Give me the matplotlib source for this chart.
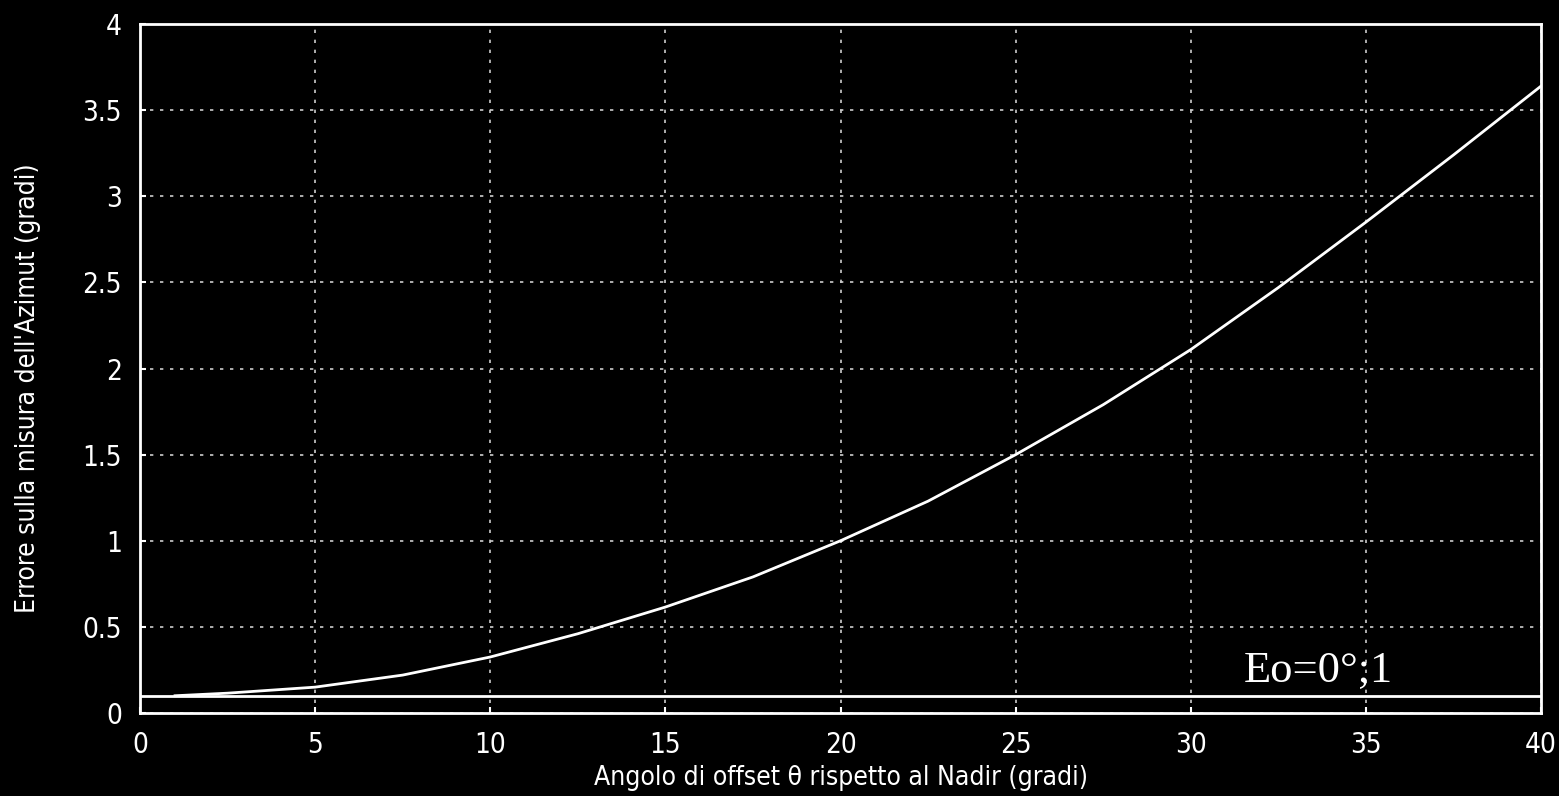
import matplotlib.pyplot as plt

# angolo di offset (gradi) e errore sull'azimut (gradi)
theta = [1, 2.5, 5, 7.5, 10, 12.5, 15, 17.5, 20, 22.5, 25, 27.5, 30, 32.5, 35, 37.5, 40]
errore = [0.10, 0.115, 0.15, 0.22, 0.325, 0.46, 0.615, 0.79, 1.0, 1.23, 1.5, 1.79, 2.11, 2.47, 2.85, 3.24, 3.64]
soglia = 0.1

xticks = [0, 5, 10, 15, 20, 25, 30, 35, 40]
yticks = [0, 0.5, 1, 1.5, 2, 2.5, 3, 3.5, 4]
yticklabels = ["0", "0.5", "1", "1.5", "2", "2.5", "3", "3.5", "4"]

plt.rcParams['font.family'] = ['DejaVu Sans']
plt.rcParams['font.stretch'] = 'condensed'

fig = plt.figure(figsize=(15.59, 7.96), dpi=100, facecolor="black")
ax = fig.add_axes([0.0898, 0.1043, 0.8987, 0.8655], facecolor="black")

ax.plot(theta, errore, color="white", linewidth=2)
ax.axhline(soglia, color="white", linewidth=2)

ax.set_xlim(0, 40)
ax.set_ylim(0, 4)
ax.set_xticks(xticks)
ax.set_yticks(yticks)
ax.set_yticklabels(yticklabels)
ax.tick_params(colors="white", labelsize=20, direction="in", length=4, width=1.5, pad=13)

ax.grid(True, color="#cccccc", linestyle=(0, (2, 4)), linewidth=1.2)
for s in ax.spines.values():
    s.set_color("white")
    s.set_linewidth(2)

ax.set_xlabel("Angolo di offset θ rispetto al Nadir (gradi)", color="white", fontsize=19)
ax.set_ylabel("Errore sulla misura dell'Azimut (gradi)", color="white", fontsize=19)
ax.xaxis.set_label_coords(0.5, -0.076)
ax.yaxis.set_label_coords(-0.071, 0.472)

ax.text(31.5, 0.25, "Eo=0°;1", color="white", fontsize=32, va="center", ha="left",
        family=["Liberation Serif", "DejaVu Serif"], fontstretch="normal")

plt.savefig("out.png", dpi=100, facecolor="black")
